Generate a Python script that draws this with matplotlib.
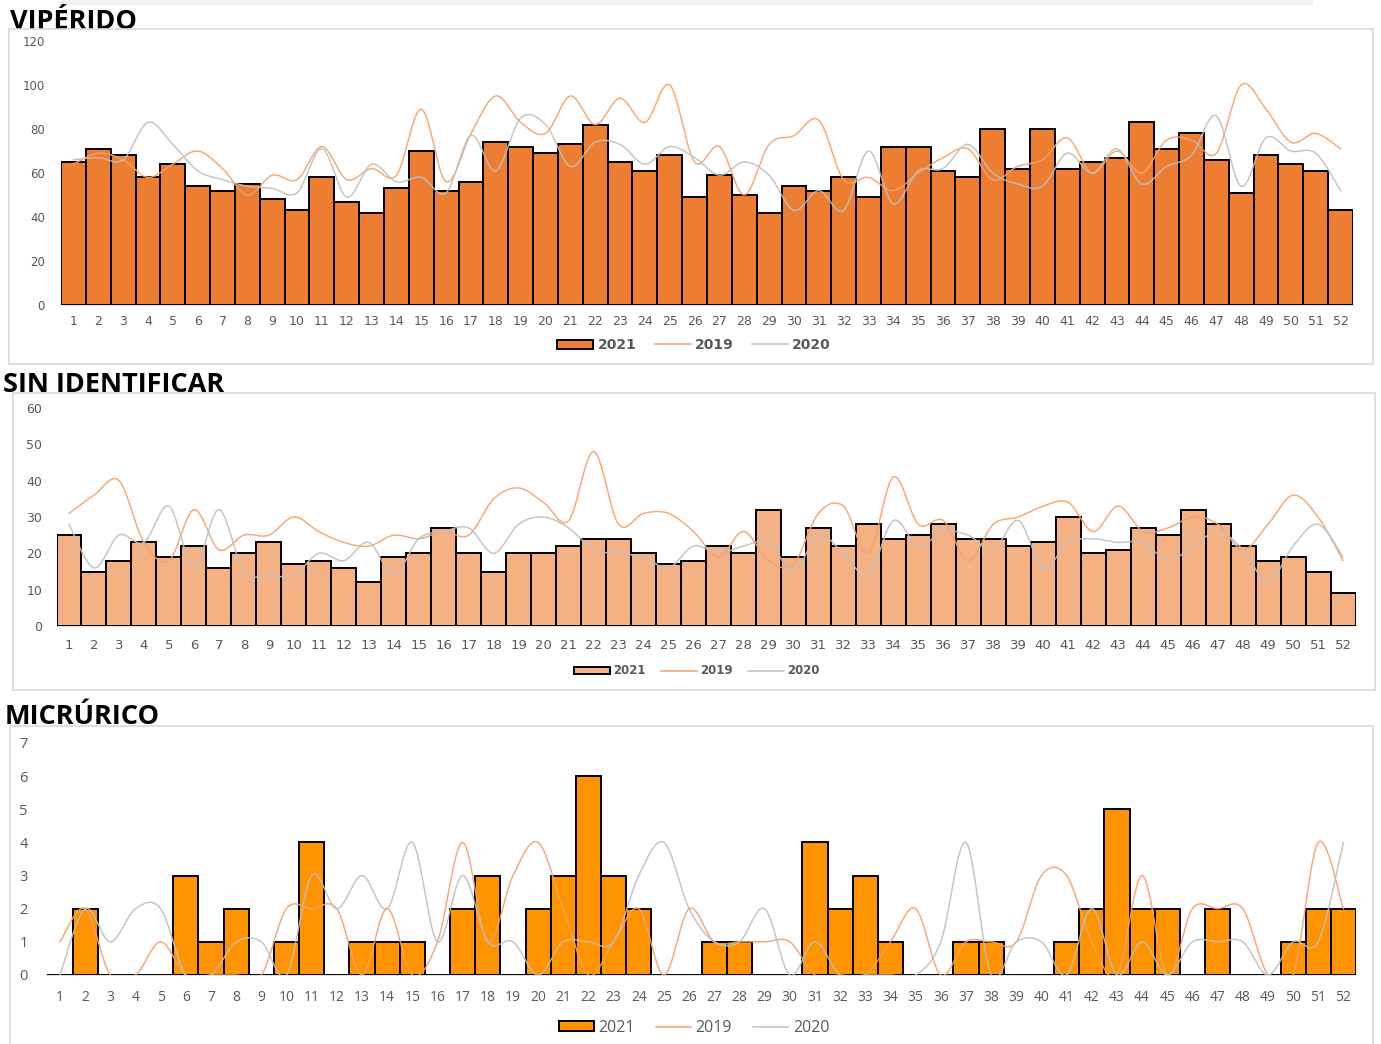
import numpy as np
import matplotlib
matplotlib.use("Agg")
import matplotlib.pyplot as plt
from matplotlib.patches import Rectangle, Patch
from matplotlib.lines import Line2D

# ---------------- data ----------------
weeks = list(range(1, 53))
week_labels = [str(w) for w in weeks]

vip_2021 = [65, 71, 68, 58, 64, 54, 52, 55, 48, 43, 58, 47, 42, 53, 70, 52, 56, 74, 72, 69,
            73, 82, 65, 61, 68, 49, 59, 50, 42, 54, 52, 58, 49, 72, 72, 61, 58, 80, 62, 80,
            62, 65, 67, 83, 71, 78, 66, 51, 68, 64, 61, 43]
vip_2019 = [64, 69, 66, 58, 64, 70, 62, 50, 59, 57, 72, 57, 62, 59, 89, 56, 78, 95, 83, 78,
            95, 82, 94, 83, 100, 65, 72, 50, 73, 77, 84, 57, 58, 52, 60, 67, 71, 57, 63, 66,
            76, 60, 70, 60, 75, 75, 69, 100, 89, 74, 78, 71]
vip_2020 = [66, 67, 66, 83, 73, 61, 57, 54, 53, 51, 71, 49, 64, 56, 58, 51, 77, 61, 85, 82,
            63, 74, 73, 64, 72, 67, 59, 65, 59, 43, 52, 43, 70, 46, 61, 62, 73, 60, 55, 54,
            69, 60, 71, 55, 63, 68, 86, 54, 76, 70, 69, 52]

sin_2021 = [25, 15, 18, 23, 19, 22, 16, 20, 23, 17, 18, 16, 12, 19, 20, 27, 20, 15, 20, 20,
            22, 24, 24, 20, 17, 18, 22, 20, 32, 19, 27, 22, 28, 24, 25, 28, 24, 24, 22, 23,
            30, 20, 21, 27, 25, 32, 28, 22, 18, 19, 15, 9]
sin_2019 = [31, 36, 40, 23, 18, 32, 21, 25, 25, 30, 26, 23, 22, 25, 24, 26, 25, 35, 38, 34,
            29, 48, 28, 31, 31, 26, 19, 26, 18, 17, 31, 33, 20, 41, 28, 29, 18, 28, 30, 33,
            34, 26, 33, 26, 27, 30, 28, 21, 28, 36, 30, 18]
sin_2020 = [28, 16, 25, 23, 33, 16, 32, 15, 14, 14, 20, 18, 23, 14, 24, 26, 27, 20, 28, 30,
            27, 21, 20, 19, 16, 22, 20, 22, 23, 15, 25, 20, 14, 29, 22, 26, 25, 21, 29, 16,
            23, 24, 23, 23, 18, 22, 26, 21, 12, 22, 28, 19]

mic_2021 = [0, 2, 0, 0, 0, 3, 1, 2, 0, 1, 4, 0, 1, 1, 1, 0, 2, 3, 0, 2,
            3, 6, 3, 2, 0, 0, 1, 1, 0, 0, 4, 2, 3, 1, 0, 0, 1, 1, 0, 0,
            1, 2, 5, 2, 2, 0, 2, 0, 0, 1, 2, 2]
mic_2019 = [1, 2, 0, 0, 1, 0, 0, 0, 0, 2, 2, 2, 0, 2, 0, 1, 4, 1, 3, 4,
            2, 0, 1, 2, 0, 2, 1, 1, 1, 1, 0, 0, 0, 1, 2, 0, 1, 1, 1, 3,
            3, 1, 0, 3, 0, 2, 2, 2, 0, 0, 4, 2]
mic_2020 = [0, 2, 1, 2, 2, 0, 0, 1, 1, 0, 3, 2, 3, 2, 4, 1, 3, 1, 1, 0,
            1, 1, 1, 3, 4, 2, 1, 1, 2, 0, 1, 0, 0, 0, 0, 1, 4, 0, 1, 1,
            0, 2, 0, 1, 0, 1, 1, 1, 0, 1, 1, 4]

titles = ["VIPÉRIDO", "SIN IDENTIFICAR", "MICRÚRICO"]
series_names = ["2021", "2019", "2020"]

# ---------------- figure ----------------
W, H = 1381, 1044
fig = plt.figure(figsize=(W / 100, H / 100), dpi=100)
fig.patch.set_facecolor("white")


def px_axes(left, top, right, bottom):
    return fig.add_axes([left / W, (H - bottom) / H, (right - left) / W, (bottom - top) / H])


def fig_rect(x0, y0, x1, y1, **kw):
    r = Rectangle((x0 / W, (H - y1) / H), (x1 - x0) / W, (y1 - y0) / H,
                  transform=fig.transFigure, **kw)
    fig.patches.append(r)


def smooth(xs, ys, n=30):
    xs = np.asarray(xs, float)
    ys = np.asarray(ys, float)
    px = np.concatenate([[xs[0]], xs, [xs[-1]]])
    py = np.concatenate([[ys[0]], ys, [ys[-1]]])
    t = np.linspace(0, 1, n, endpoint=False)
    ox, oy = [], []
    for i in range(1, len(px) - 2):
        for P, out in ((px, ox), (py, oy)):
            p0, p1, p2, p3 = P[i - 1], P[i], P[i + 1], P[i + 2]
            c1 = p1 + (p2 - p0) / 6.0
            c2 = p2 - (p3 - p1) / 6.0
            b = ((1 - t) ** 3) * p1 + 3 * ((1 - t) ** 2) * t * c1 + 3 * (1 - t) * t ** 2 * c2 + t ** 3 * p2
            out.extend(b)
    ox.append(xs[-1])
    oy.append(ys[-1])
    return np.array(ox), np.array(oy)


TXT = "#595959"
GRID = "#D9D9D9"
C19 = "#F4A26B"
C20 = "#BFBFBF"

# top strip and panel frames
fig_rect(59, 0, 1313, 4.5, facecolor="#F2F2F2", edgecolor="none", zorder=0)

panels = [
    dict(box=(8.5, 28.5, 1373, 364), ax=(61, 41, 1353, 305), title_xy=(10, 29),
         d21=vip_2021, d19=vip_2019, d20=vip_2020, ymax=120, ystep=20, bar="#ED7D31",
         tfont="DejaVu Sans", ytsize=8.5, xtsize=9, ypad=11.5, xpad=7.5,
         leg_xy=(694, 345), leg_size=10, leg_bold=True, leg_font="DejaVu Sans",
         hlen=2.6, title_size=19.5),
    dict(box=(12.5, 393, 1375, 690), ax=(56.5, 408, 1355.5, 626), title_xy=(3, 392),
         d21=sin_2021, d19=sin_2019, d20=sin_2020, ymax=60, ystep=10, bar="#F4B183",
         tfont="DejaVu Sans", ytsize=9, xtsize=9.5, ypad=10.4, xpad=9.5,
         leg_xy=(697, 671), leg_size=8.5, leg_bold=True, leg_font="DejaVu Sans",
         hlen=3.0, title_size=19.5),
    dict(box=(9.5, 725.5, 1373, 1050), ax=(47.4, 743, 1356, 975), title_xy=(5, 724),
         d21=mic_2021, d19=mic_2019, d20=mic_2020, ymax=7, ystep=1, bar="#FF9300",
         tfont="Open Sans", ytsize=10.5, xtsize=10, ypad=14, xpad=11,
         leg_xy=(694, 1028), leg_size=11.5, leg_bold=False, leg_font="Open Sans",
         hlen=2.2, title_size=19.5),
]

for i, p in enumerate(panels):
    fig.text(p["title_xy"][0] / W, 1 - p["title_xy"][1] / H, titles[i],
             fontsize=p["title_size"], fontweight="bold", family="Open Sans",
             color="black", ha="left", va="baseline", zorder=0.2)
    x0, y0, x1, y1 = p["box"]
    fig_rect(x0, y0, x1, y1, facecolor="white", edgecolor=GRID, linewidth=1.2, zorder=0.5)

    ax = px_axes(*p["ax"])
    ax.set_zorder(2)
    ax.patch.set_alpha(0)
    ax.bar(weeks, p["d21"], width=1.0, color=p["bar"], edgecolor="black",
           linewidth=1.4, zorder=2)
    sx, sy = smooth(weeks, p["d19"])
    ax.plot(sx, sy, color=C19, linewidth=1.1, alpha=0.9, zorder=3)
    sx, sy = smooth(weeks, p["d20"])
    ax.plot(sx, sy, color=C20, linewidth=1.1, alpha=0.9, zorder=3)

    ax.set_xlim(0.5, 52.5)
    ax.set_ylim(0, p["ymax"])
    ax.set_yticks(np.arange(0, p["ymax"] + 0.001, p["ystep"]))
    ax.set_xticks(weeks)
    ax.set_xticklabels(week_labels)
    for s in ("top", "right", "left"):
        ax.spines[s].set_visible(False)
    ax.spines["bottom"].set_color(GRID)
    ax.spines["bottom"].set_linewidth(1.2)
    ax.spines["bottom"].set_zorder(1)
    ax.tick_params(axis="both", length=0, colors=TXT)
    ax.tick_params(axis="y", pad=p["ypad"], labelsize=p["ytsize"])
    ax.tick_params(axis="x", pad=p["xpad"], labelsize=p["xtsize"])
    for lab in ax.get_xticklabels() + ax.get_yticklabels():
        lab.set_family(p["tfont"])

    handles = [
        Patch(facecolor=p["bar"], edgecolor="black", linewidth=1.4),
        Line2D([0], [0], color=C19, linewidth=1.1),
        Line2D([0], [0], color=C20, linewidth=1.1),
    ]
    lx, ly = p["leg_xy"]
    leg = fig.legend(handles, series_names, loc="center",
                     bbox_to_anchor=(lx / W, 1 - ly / H), ncol=3, frameon=False,
                     handlelength=p["hlen"], handleheight=0.6, handletextpad=0.3,
                     columnspacing=1.3, borderpad=0,
                     prop=dict(family=p["leg_font"], size=p["leg_size"],
                               weight="bold" if p["leg_bold"] else "normal"))
    for t in leg.get_texts():
        t.set_color(TXT)
    leg.set_zorder(3)

fig.savefig("out.png", dpi=100, facecolor="white")
